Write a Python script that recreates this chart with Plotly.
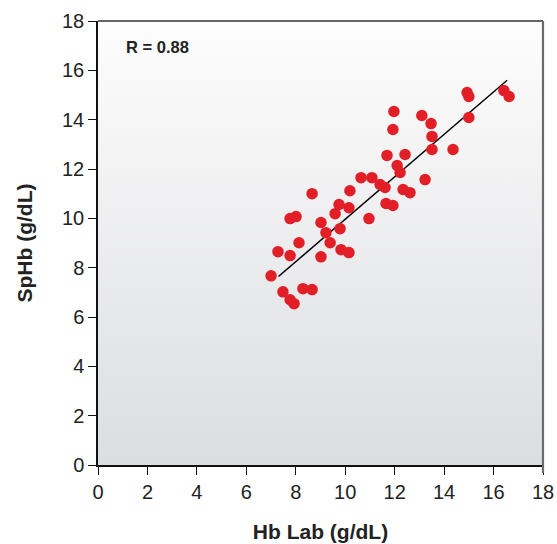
import plotly.graph_objects as go

hb_lab = [7.0, 7.28, 7.48, 7.77, 7.93, 7.77, 7.77, 8.01, 8.13, 8.29, 8.66, 8.66,
          9.02, 9.02, 9.22, 9.39, 9.59, 9.79, 9.83, 9.75, 10.15, 10.15, 10.19,
          10.64, 11.08, 10.96, 11.41, 11.61, 11.65, 11.69, 11.93, 11.93, 11.97,
          12.1, 12.22, 12.34, 12.42, 12.62, 13.1, 13.23, 13.47, 13.51, 13.51,
          14.36, 14.93, 15.0, 15.0, 16.42, 16.63]
sphb = [7.67, 8.65, 7.02, 6.70, 6.54, 8.49, 9.99, 10.07, 9.01, 7.15, 7.11, 11.0,
        8.44, 9.83, 9.42, 9.01, 10.19, 9.58, 8.73, 10.56, 10.43, 8.61, 11.12,
        11.65, 11.65, 9.99, 11.37, 11.25, 10.6, 12.55, 10.52, 13.6, 14.33,
        12.14, 11.86, 11.17, 12.59, 11.04, 14.17, 11.57, 13.84, 13.32, 12.79,
        12.79, 15.10, 14.94, 14.09, 15.18, 14.94]
fit_x = [7.3, 16.55]
fit_y = [7.64, 15.6]
ticks = [0, 2, 4, 6, 8, 10, 12, 14, 16, 18]

fig = go.Figure()
# gradient background
fig.add_trace(go.Scatter(x=[0, 18, 18, 0, 0], y=[0, 0, 18, 18, 0], mode="lines",
                         fill="toself", line=dict(width=0),
                         fillgradient=dict(type="vertical", start=0, stop=18,
                                           colorscale=[[0, "#dcdde0"], [1, "#fdfdfd"]]),
                         hoverinfo="skip", showlegend=False))
fig.add_trace(go.Scatter(x=fit_x, y=fit_y, mode="lines",
                         line=dict(color="black", width=1.5), showlegend=False))
fig.add_trace(go.Scatter(x=hb_lab, y=sphb, mode="markers",
                         marker=dict(color="#e21e26", size=11.5, line=dict(width=0)),
                         showlegend=False))

font = "Liberation Sans, Arial, Helvetica, sans-serif"
fig.update_layout(
    width=557, height=544,
    margin=dict(l=98, r=14, t=21, b=79),
    paper_bgcolor="white", plot_bgcolor="white",
    font=dict(family=font, size=20, color="#222"),
    xaxis=dict(range=[0, 18], tickvals=ticks, ticks="outside", ticklen=8,
               tickwidth=1.3, tickcolor="#111", showgrid=False, zeroline=False,
               showline=True, linecolor="#111", linewidth=1.5, automargin=False,
               tickfont=dict(size=20), ticklabeloverflow="allow",
               title=dict(text="<b>Hb Lab (g/dL)</b>", font=dict(size=21), standoff=23)),
    yaxis=dict(range=[0, 18], tickvals=ticks, ticks="outside", ticklen=8,
               tickwidth=1.3, tickcolor="#111", showgrid=False, zeroline=False,
               showline=True, linecolor="#111", linewidth=1.5, automargin=False,
               tickfont=dict(size=20),
               title=dict(text="<b>SpHb (g/dL)</b>", font=dict(size=21), standoff=24)),
    shapes=[
        dict(type="line", xref="paper", yref="paper", x0=0, x1=1, y0=1, y1=1,
             line=dict(color="#333", width=1.5)),
        dict(type="line", xref="paper", yref="paper", x0=1, x1=1, y0=-0.018, y1=1,
             line=dict(color="#6b6b6b", width=2.2)),
    ],
    annotations=[dict(text="<b>R = 0.88</b>", x=1.05, y=16.95, xref="x", yref="y",
                      xanchor="left", yanchor="middle", showarrow=False,
                      font=dict(size=16.5, color="#222"))],
)
fig.write_html("out.html", config={"displayModeBar": False},
               post_script="document.body.style.margin='0';document.body.style.overflow='hidden';")
